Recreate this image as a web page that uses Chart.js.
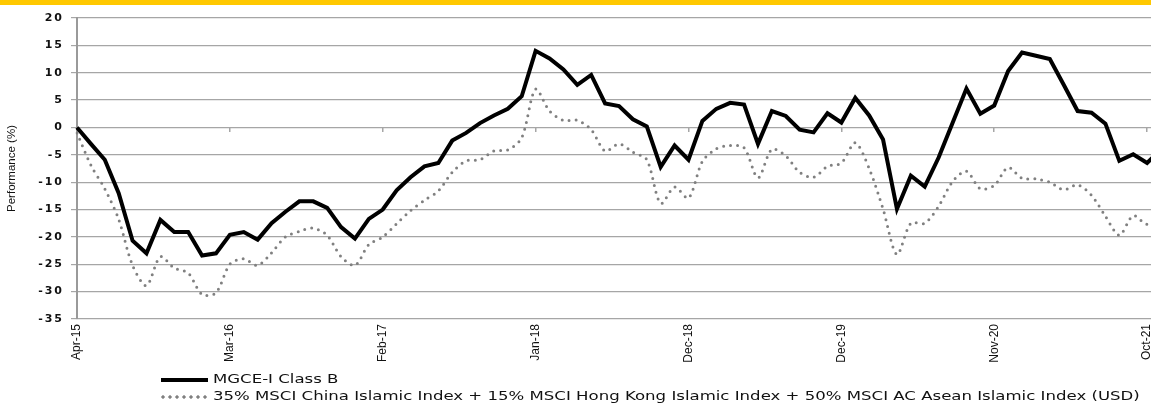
<!DOCTYPE html>
<html lang="en">
<head>
<meta charset="UTF-8">
<title>MGCE-I Class B - Performance</title>
<script src="https://cdn.jsdelivr.net/npm/chart.js"></script>
<style>
  html, body { margin: 0; padding: 0; background: #fff; overflow: hidden; }
  body { width: 1151px; height: 404px; position: relative; }
  .topbar { position: absolute; left: 0; top: 0; width: 100%; height: 5px; background: #ffc800; z-index: 2; }
  #chart { position: absolute; left: 0; top: 0; }
  .legend-row { position: absolute; left: 0; width: 1151px; height: 16px; }
  .legend-row .swatch { position: absolute; left: 161px; top: 6px; width: 47px; height: 4px; }
  .legend-row .text {
    position: absolute; left: 213px; top: 0; line-height: 16px;
    font: 12px 'DejaVu Sans', sans-serif; color: #111; white-space: nowrap;
    transform: scaleX(1.38); transform-origin: 0 50%;
  }
</style>
</head>
<body>
<div class="topbar"></div>
<canvas id="chart" width="1175" height="404"></canvas>
<div id="legend"></div>

<script>
// month labels (one 2019 month is absent in the source series, so Dec-19 falls on index 55)
const months = [
  'Apr-15','May-15','Jun-15','Jul-15','Aug-15','Sep-15','Oct-15','Nov-15','Dec-15',
  'Jan-16','Feb-16','Mar-16','Apr-16','May-16','Jun-16','Jul-16','Aug-16','Sep-16','Oct-16','Nov-16','Dec-16',
  'Jan-17','Feb-17','Mar-17','Apr-17','May-17','Jun-17','Jul-17','Aug-17','Sep-17','Oct-17','Nov-17','Dec-17',
  'Jan-18','Feb-18','Mar-18','Apr-18','May-18','Jun-18','Jul-18','Aug-18','Sep-18','Oct-18','Nov-18','Dec-18',
  'Jan-19','Feb-19','Mar-19','Apr-19','May-19','Jun-19','Aug-19','Sep-19','Oct-19','Nov-19','Dec-19',
  'Jan-20','Feb-20','Mar-20','Apr-20','May-20','Jun-20','Jul-20','Aug-20','Sep-20','Oct-20','Nov-20','Dec-20',
  'Jan-21','Feb-21','Mar-21','Apr-21','May-21','Jun-21','Jul-21','Aug-21','Sep-21','Oct-21','Nov-21'
];

const fundName = 'MGCE-I Class B';
const indexName = '35% MSCI China Islamic Index + 15% MSCI Hong Kong Islamic Index + 50% MSCI AC Asean Islamic Index (USD)';

const fundValues = [
  0, -3, -5.9, -12, -20.7, -23, -16.9, -19.1, -19.1, -23.4,
  -23, -19.6, -19.1, -20.5, -17.5, -15.4, -13.5, -13.5, -14.7, -18.2,
  -20.3, -16.7, -15, -11.5, -9.1, -7.1, -6.5, -2.4, -1.0, 0.8,
  2.2, 3.4, 5.7, 14.0, 12.6, 10.6, 7.8, 9.6, 4.4, 3.9,
  1.5, 0.2, -7.2, -3.3, -5.9, 1.2, 3.4, 4.5, 4.2, -3.0,
  3.0, 2.1, -0.4, -0.9, 2.6, 0.9, 5.4, 2.2, -2.2, -14.9,
  -8.8, -10.8, -5.5, 0.8, 7.1, 2.5, 4.0, 10.3, 13.7, 13.1,
  12.5, 7.8, 3.0, 2.7, 0.7, -6.1, -4.9, -6.5, -4.0
];

const indexValues = [
  -1.0, -6.9, -11.2, -16.8, -25.2, -28.9, -23.6, -25.7, -26.6, -30.5,
  -30.2, -25, -24, -25.2, -22.9, -20, -19, -18.4, -19.7, -23.6,
  -25.2, -21.4, -20, -17.6, -15.2, -13.3, -11.6, -8.2, -6.1, -5.9,
  -4.3, -4.1, -1.9, 7.0, 3.0, 1.3, 1.3, -0.4, -4.3, -3.0,
  -4.5, -5.9, -13.9, -10.9, -12.9, -6.2, -3.9, -3.3, -3.7, -9.2,
  -4.0, -5.2, -8.2, -9.1, -7.1, -6.5, -2.8, -7.5, -14.9, -23.2,
  -17.5, -17.5, -14.4, -9.9, -8.0, -11.2, -10.6, -7.3, -9.3, -9.4,
  -10.0, -11.4, -10.5, -12.4, -16.2, -19.7, -16.1, -17.7, -16.5
];

const yMin = -35;
const yMax = 20;
const yStep = 5;
const labelEvery = 11;

const gridColor = '#a6a6a6';

function everyEleventh(value, index) {
  return index % labelEvery === 0 ? this.getLabelForValue(value) : null;
}

// y tick labels in the source are widely spaced
const spacedYLabels = {
  id: 'spacedYLabels',
  beforeDraw(chart) {
    const y = chart.scales.y;
    if (y.__spaced) return;
    const draw = y.drawLabels;
    y.drawLabels = function (area) {
      const ctx = this.ctx;
      ctx.save();
      ctx.letterSpacing = '2px';
      draw.call(this, area);
      ctx.restore();
    };
    y.__spaced = true;
  }
};

const ctx = document.getElementById('chart').getContext('2d');
const chart = new Chart(ctx, {
  type: 'line',
  data: {
    labels: months,
    datasets: [
      {
        label: fundName,
        data: fundValues,
        borderColor: '#000',
        borderWidth: 4,
        pointRadius: 0,
        tension: 0,
        fill: false
      },
      {
        label: indexName,
        data: indexValues,
        borderColor: '#808080',
        borderWidth: 3,
        borderDash: [0, 7],
        borderCapStyle: 'round',
        pointRadius: 0,
        tension: 0.3,
        fill: false
      }
    ]
  },
  options: {
    responsive: false,
    animation: false,
    devicePixelRatio: 1,
    layout: { padding: { top: 18, right: 14, bottom: 0, left: 0 } },
    plugins: {
      legend: { display: false },
      tooltip: { enabled: false }
    },
    scales: {
      x: {
        type: 'category',
        offset: false,
        grid: { display: false, drawTicks: false },
        border: { display: false },
        ticks: {
          autoSkip: false,
          maxRotation: 90,
          minRotation: 90,
          padding: 5,
          color: '#111',
          font: { family: "'Liberation Sans', Arial, sans-serif", size: 12 },
          callback: everyEleventh
        },
        afterFit: s => { s.height = 85; }
      },
      x0: {
        type: 'category',
        position: { y: 0 },
        offset: false,
        grid: { drawOnChartArea: false, drawTicks: true, tickLength: 5, color: gridColor, lineWidth: 1.5 },
        border: { display: false },
        ticks: { display: false, autoSkip: false, callback: everyEleventh },
        afterFit: s => { s.height = 0; }
      },
      y: {
        min: yMin,
        max: yMax,
        grid: { color: gridColor, lineWidth: 1.2, tickLength: 6 },
        border: { display: true, color: '#9a9a9a', width: 2 },
        ticks: {
          stepSize: yStep,
          padding: 7,
          color: '#111',
          font: { family: "'DejaVu Sans', sans-serif", size: 11, weight: 'bold' }
        },
        title: {
          display: true,
          text: 'Performance (%)',
          color: '#111',
          padding: { top: 5, bottom: 0 },
          font: { family: "'Liberation Sans', Arial, sans-serif", size: 11.5 }
        },
        afterFit: s => { s.width = 77; }
      }
    }
  },
  plugins: [spacedYLabels]
});

// legend under the chart, built from the datasets
const legend = document.getElementById('legend');
const rowTops = [372, 389];
chart.data.datasets.forEach((ds, i) => {
  const row = document.createElement('div');
  row.className = 'legend-row';
  row.style.top = rowTops[i] + 'px';
  const sw = document.createElement('div');
  sw.className = 'swatch';
  if (ds.borderDash && ds.borderDash.length) {
    sw.style.background = 'radial-gradient(circle at 2px 2px, ' + ds.borderColor + ' 1.4px, transparent 1.9px) 0 0 / 7px 4px repeat-x';
  } else {
    sw.style.background = ds.borderColor;
  }
  const tx = document.createElement('span');
  tx.className = 'text';
  tx.textContent = ds.label;
  row.appendChild(sw);
  row.appendChild(tx);
  legend.appendChild(row);
});
</script>
</body>
</html>
